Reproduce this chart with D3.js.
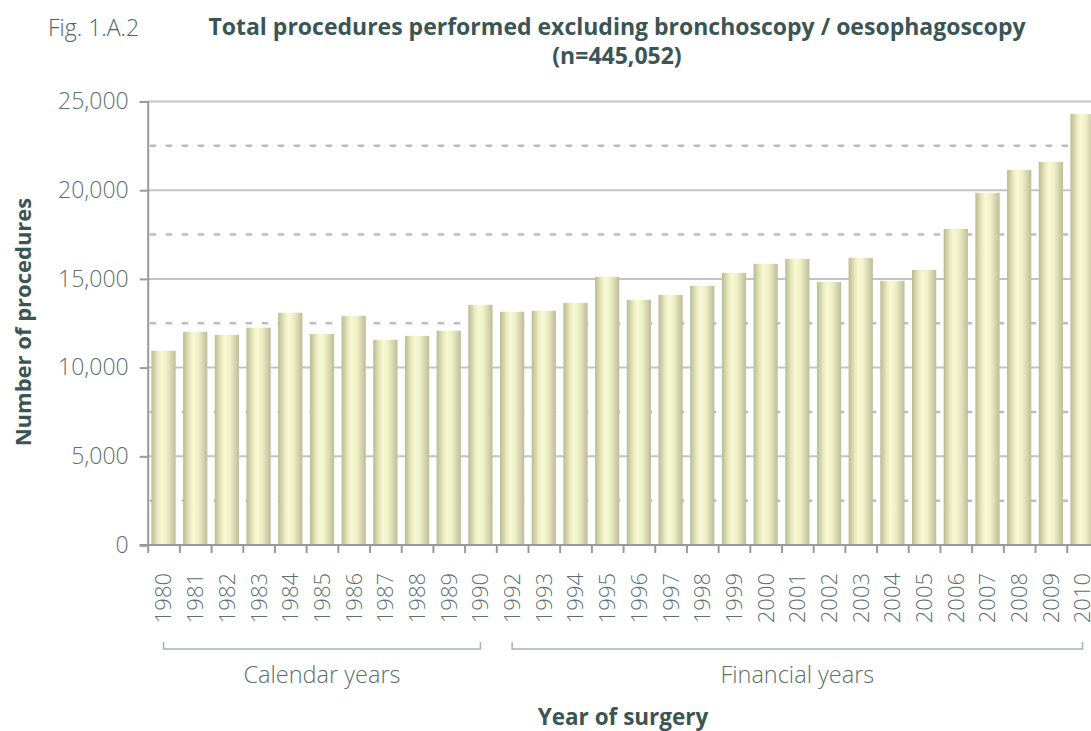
<!DOCTYPE html>
<html>
<head>
<meta charset="utf-8">
<script src="https://cdn.jsdelivr.net/npm/d3@7"></script>
<style>
  html, body { margin: 0; padding: 0; background: #fff; overflow: hidden; }
  svg { display: block; font-family: "Open Sans", "Noto Sans", sans-serif; }
</style>
</head>
<body>
<svg id="svg01" width="1091" height="731"></svg>
<script>
// data
const calendarYears = ["1980","1981","1982","1983","1984","1985","1986","1987","1988","1989","1990"]
const calendarValues = [10950, 12020, 11850, 12250, 13090, 11900, 12920, 11570, 11790, 12080, 13540]
const financialYears = ["1992","1993","1994","1995","1996","1997","1998","1999","2000","2001",
                        "2002","2003","2004","2005","2006","2007","2008","2009","2010"]
const financialValues = [13150, 13200, 13650, 15120, 13820, 14100, 14610, 15340, 15850, 16130,
                         14830, 16190, 14890, 15510, 17820, 19850, 21140, 21590, 24300]
const yTicks = [0, 5000, 10000, 15000, 20000, 25000]
const yDashed = [2500, 7500, 12500, 17500, 22500]

const years = calendarYears.concat(financialYears)
const data = years.map((d, i) => ({year: d, value: calendarValues.concat(financialValues)[i]}))

const width = 1091, height = 731
const x0 = 147.7, stepW = 31.69
const axisCol = "#9a9a9a", gridCol = "#c3c3c3"
const textCol = "#5b6f6f", titleCol = "#3b5555"
const font = '"Open Sans", "Noto Sans", sans-serif'

const svg = d3.select("#svg01")

// gradient for the bars
const grad = svg.append("defs").append("linearGradient")
    .attr("id", "barGrad").attr("x1", "0%").attr("x2", "100%").attr("y1", "0%").attr("y2", "0%")
grad.append("stop").attr("offset", "0%").attr("stop-color", "#baba94")
grad.append("stop").attr("offset", "28%").attr("stop-color", "#ececc2")
grad.append("stop").attr("offset", "42%").attr("stop-color", "#f8f8d2")
grad.append("stop").attr("offset", "62%").attr("stop-color", "#f0f0c8")
grad.append("stop").attr("offset", "100%").attr("stop-color", "#bdbd99")

const x = d3.scaleBand()
    .domain(years)
    .range([x0, x0 + years.length * stepW])
    .paddingInner(0.235)
    .paddingOuter(0.1175)

const xi = d3.scaleLinear()
    .domain([0, years.length])
    .range([x0, x0 + years.length * stepW])

const y = d3.scaleLinear()
    .domain([0, 25000])
    .range([545, 101.5])

// grid
svg.append("g").selectAll("line").data(yTicks.slice(1)).join("line")
    .attr("x1", x0).attr("x2", width)
    .attr("y1", d => y(d)).attr("y2", d => y(d))
    .attr("stroke", gridCol).attr("stroke-width", 2)

svg.append("g").selectAll("line").data(yDashed).join("line")
    .attr("x1", x0 + 2).attr("x2", width)
    .attr("y1", d => y(d)).attr("y2", d => y(d))
    .attr("stroke", "#bdbdbd").attr("stroke-width", 2.5)
    .attr("stroke-dasharray", "6.5,9.5")

// bars
svg.append("g").selectAll("rect").data(data).join("rect")
    .attr("x", d => x(d.year))
    .attr("width", x.bandwidth())
    .attr("y", d => y(d.value))
    .attr("height", d => y(0) - y(d.value))
    .attr("fill", "url(#barGrad)")

// y axis
const yAxis = svg.append("g")
    .attr("transform", `translate(${x0},0)`)
    .call(d3.axisLeft(y).tickValues(yTicks).tickSize(8).tickPadding(11).tickFormat(d3.format(",")))
    .attr("font-family", font).attr("font-size", 23)
yAxis.select(".domain").attr("stroke", axisCol).attr("stroke-width", 2)
yAxis.selectAll(".tick line").attr("stroke", axisCol).attr("stroke-width", 2)
yAxis.selectAll(".tick text")
    .attr("fill", textCol).attr("font-weight", 300)

// x axis: boundary ticks
const xAxis = svg.append("g")
    .attr("transform", `translate(0,${y(0)})`)
    .call(d3.axisBottom(xi).tickValues(d3.range(0, years.length + 1)).tickSize(8).tickFormat("").tickSizeOuter(0))
xAxis.select(".domain").attr("stroke", axisCol).attr("stroke-width", 2)
    .attr("d", `M${x0 - 8},0H${width + 20}`)
xAxis.selectAll(".tick line").attr("stroke", axisCol).attr("stroke-width", 2)

// x labels
const xLab = svg.append("g")
    .attr("transform", `translate(0,${y(0)})`)
    .call(d3.axisBottom(x).tickSize(0).tickPadding(0))
    .attr("font-family", font).attr("font-size", 22)
xLab.select(".domain").remove()
xLab.selectAll(".tick text")
    .attr("transform", "translate(0,28) rotate(-90)")
    .attr("text-anchor", "end")
    .attr("x", 0).attr("y", 0).attr("dy", "0.36em")
    .attr("fill", textCol).attr("font-weight", 300)

// brackets
const groups = [
  {label: "Calendar years", from: calendarYears[0], to: calendarYears[calendarYears.length - 1]},
  {label: "Financial years", from: financialYears[0], to: financialYears[financialYears.length - 1]}
]
const by = 649
groups.forEach(gp => {
  const a = x(gp.from) + x.bandwidth() / 2
  const b = x(gp.to) + x.bandwidth() / 2
  svg.append("path")
      .attr("d", `M${a},${by - 7}V${by}H${b}V${by - 7}`)
      .attr("fill", "none").attr("stroke", "#a9b1b1").attr("stroke-width", 1.5)
  svg.append("text")
      .attr("x", (a + b) / 2).attr("y", 683)
      .attr("text-anchor", "middle")
      .attr("fill", textCol).attr("font-size", 23.5).attr("font-weight", 300)
      .text(gp.label)
})

// titles
svg.append("text")
    .attr("x", 48).attr("y", 36)
    .attr("fill", "#4f6565").attr("font-size", 23).attr("font-weight", 300)
    .text("Fig. 1.A.2")

svg.append("text")
    .attr("x", 617).attr("y", 35)
    .attr("text-anchor", "middle")
    .attr("fill", titleCol).attr("font-size", 23).attr("font-weight", 700)
    .text("Total procedures performed excluding bronchoscopy / oesophagoscopy")

svg.append("text")
    .attr("x", 617).attr("y", 64)
    .attr("text-anchor", "middle")
    .attr("fill", titleCol).attr("font-size", 23).attr("font-weight", 700)
    .text("(n=445,052)")

svg.append("text")
    .attr("transform", "translate(31,322) rotate(-90)")
    .attr("text-anchor", "middle")
    .attr("fill", titleCol).attr("font-size", 22).attr("font-weight", 700)
    .text("Number of procedures")

svg.append("text")
    .attr("x", 623).attr("y", 725)
    .attr("text-anchor", "middle")
    .attr("fill", titleCol).attr("font-size", 22.5).attr("font-weight", 700)
    .text("Year of surgery")
</script>
</body>
</html>
